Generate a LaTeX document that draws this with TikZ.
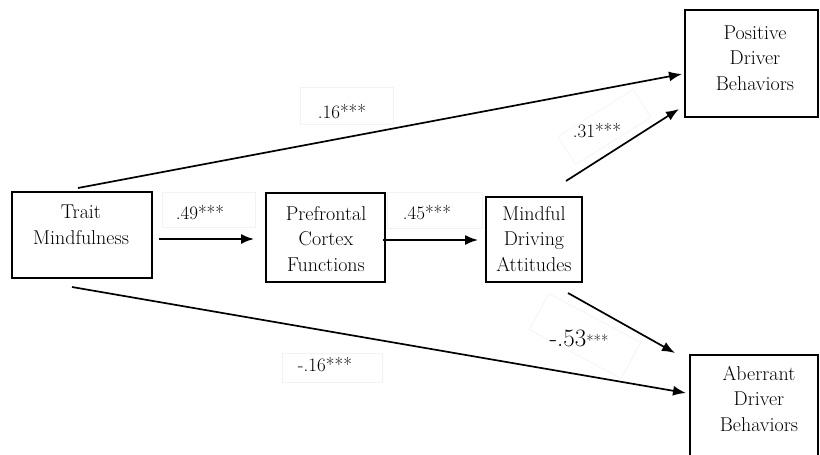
\documentclass[tikz,border=0pt]{standalone}
\usetikzlibrary{arrows.meta}
\begin{document}
\begin{tikzpicture}[x=1pt,y=-1pt,
  box/.style={draw, line width=1.5pt, inner sep=0pt},
  boxtext/.style={align=center, inner sep=0pt, font=\fontsize{20}{25.5}\selectfont},
  coef/.style={inner sep=0pt, font=\fontsize{19}{22}\selectfont},
  frame/.style={draw=black!5, line width=0.6pt, inner sep=0pt},
  path/.style={line width=1.7pt, -{Latex[length=13pt,width=10pt]}}]
\useasboundingbox (0,0) rectangle (820,455);

% coefficient text frames (drawn first, paths pass over them)
\node[frame, minimum width=93pt, minimum height=37pt] (f16) at (346.5,105.5) {};
\node[frame, minimum width=93pt, minimum height=35pt] (f49) at (208.5,209.5) {};
\node[frame, minimum width=95pt, minimum height=36pt] (f45) at (434.5,210) {};
\node[frame, minimum width=89pt, minimum height=33pt, rotate=32] (f31) at (604.5,127) {};
\node[frame, minimum width=104pt, minimum height=41pt, rotate=-28] (f53) at (585,336) {};
\node[frame, minimum width=100pt, minimum height=29pt] (f16n) at (332,367.5) {};

% variable boxes
\node[box, minimum width=140pt, minimum height=86pt] (trait) at (82,235) {};
\node[box, minimum width=119pt, minimum height=89pt] (pfc) at (325.5,237.5) {};
\node[box, minimum width=96pt, minimum height=85pt] (mda) at (534,239.5) {};
\node[box, minimum width=133pt, minimum height=107pt] (pos) at (751.5,63.5) {};
\node[box, minimum width=128pt, minimum height=115pt] (abr) at (754,412.5) {};

\node[boxtext] (traitT) at (81,225) {Trait\\Mindfulness};
\node[boxtext] (pfcT) at (326,239) {Prefrontal\\Cortex\\Functions};
\node[boxtext] (mdaT) at (534,239) {Mindful\\Driving\\Attitudes};
\node[boxtext] (posT) at (755,58) {Positive\\Driver\\Behaviors};
\node[boxtext] (abrT) at (759,399) {Aberrant\\Driver\\Behaviors};

% path end points
\coordinate (a1) at (159,239);  \coordinate (a2) at (254,239);
\coordinate (b1) at (383,240);  \coordinate (b2) at (478,240);
\coordinate (c1) at (78,188);   \coordinate (c2) at (682,74);
\coordinate (d1) at (566,181);  \coordinate (d2) at (679,109);
\coordinate (e1) at (568,293);  \coordinate (e2) at (675,353);
\coordinate (f1) at (72,287);   \coordinate (f2) at (686,393);

\draw[path] (a1) -- (a2);
\draw[path] (b1) -- (b2);
\draw[path] (c1) -- (c2);
\draw[path] (d1) -- (d2);
\draw[path] (e1) -- (e2);
\draw[path] (f1) -- (f2);

% coefficients
\node[coef] (k16) at (342,112) {.16***};
\node[coef] (k49) at (200,213) {.49***};
\node[coef] (k45) at (427,213) {.45***};
\node[coef] (k31) at (597,131) {.31***};
\node[coef, font=\fontsize{25}{28}\selectfont] (k53) at (579,338) {-.53{\fontsize{16}{16}\selectfont***}};
\node[coef] (k16n) at (325,365) {-.16***};
\end{tikzpicture}
\end{document}
